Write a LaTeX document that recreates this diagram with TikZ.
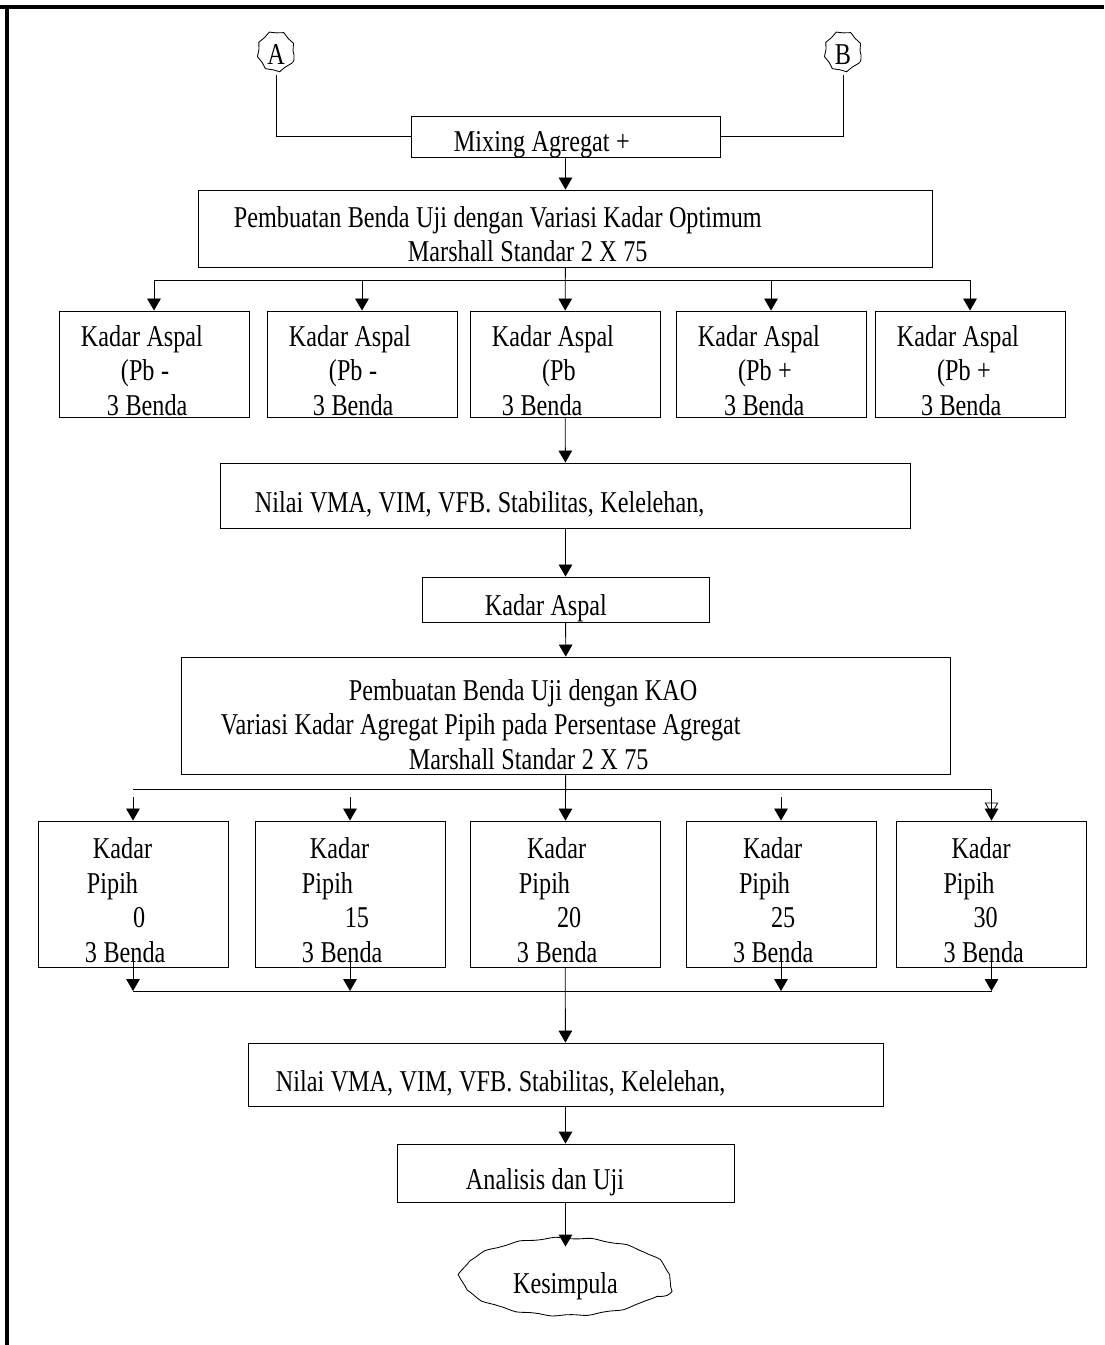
\documentclass[tikz,border=0pt]{standalone}
\usepackage{fontspec}
\setmainfont{Liberation Serif}[FakeStretch=0.8]
\usetikzlibrary{arrows.meta,shapes.geometric,decorations.pathmorphing}

\begin{document}
\begin{tikzpicture}[
  x=0.025cm, y=-0.025cm,
  every node/.style={font=\fontsize{21.5}{24.5}\selectfont},
  flow/.style={-{Triangle[length=0.3cm,width=0.34cm]}, line width=0.6pt},
  flowtwo/.style={-{Triangle[open,length=0.3cm,width=0.34cm,sep=-0.15cm]Triangle[length=0.3cm,width=0.34cm]}, line width=0.6pt},
  link/.style={line width=0.6pt},
  box/.style={
    draw,
    line width=0.6pt,
    align=left,
    inner ysep=0pt,
    text height=27.5pt,
    execute at begin node={\spaceskip=4.6pt\relax}
  },
  asbox/.style={box, text width=3.65cm, inner xsep=0.55cm, minimum height=2.65cm,
    text height=25pt, text depth=50pt},
  pibox/.style={box, text width=2.4cm, inner xsep=1.175cm, minimum height=3.65cm,
    text height=26pt, text depth=76pt},
  connector/.style={ellipse, draw, line width=0.6pt, inner sep=0pt,
    minimum width=0.9cm, minimum height=0.975cm,
    decorate, decoration={snake, amplitude=0.25mm, segment length=3.5mm}},
  endcloud/.style={ellipse, draw, line width=0.6pt, inner sep=0pt,
    minimum width=5.25cm, minimum height=1.95cm,
    decorate, decoration={snake, amplitude=0.2mm, segment length=9mm}}
]
\useasboundingbox (0,0) rectangle (1104,1345);

% page frame
\draw[line width=2.8pt] (0,7) -- (1104,7);
\draw[line width=2.2pt] (7,7) -- (7,1345);

% start
\node[connector] (A) at (276,55) {A};
\node[connector] (B) at (843,55) {B};
\node[box, text width=5.575cm, inner xsep=1.075cm, minimum height=1.025cm,
  text height=25pt, text depth=3pt] (mix) at (565.5,136.5) {Mixing Agregat +};
\node[box, text width=16.575cm, inner xsep=0.875cm, minimum height=1.925cm,
  text height=25pt, text depth=27pt] (opt) at (565.5,228.5) {
  Pembuatan Benda Uji dengan Variasi Kadar Optimum\\
  \hspace*{4.35cm}Marshall Standar 2 X 75
};

% kadar aspal row
\node[asbox] (asp1) at (154,364) {Kadar Aspal\\\hspace*{1cm}(Pb -\\\hspace*{0.65cm}3 Benda};
\node[asbox] (asp2) at (362,364) {Kadar Aspal\\\hspace*{1cm}(Pb -\\\hspace*{0.6cm}3 Benda};
\node[asbox] (asp3) at (565,364) {Kadar Aspal\\\hspace*{1.25cm}(Pb\\\hspace*{0.25cm}3 Benda};
\node[asbox] (asp4) at (771,364) {Kadar Aspal\\\hspace*{1cm}(Pb +\\\hspace*{0.65cm}3 Benda};
\node[asbox] (asp5) at (970,364) {Kadar Aspal\\\hspace*{1cm}(Pb +\\\hspace*{0.6cm}3 Benda};

\node[box, text width=15.525cm, inner xsep=0.85cm, minimum height=1.625cm] (nilai1) at (565.5,495.5) {Nilai VMA, VIM, VFB. Stabilitas, Kelelehan,};
\node[box, text width=4.025cm, inner xsep=1.575cm, minimum height=1.125cm] (kadar) at (565.5,599.5) {Kadar Aspal};
\node[box, text width=17.25cm, inner xsep=0.975cm, minimum height=2.925cm] (kao) at (566,715.5) {
  \hspace*{3.2cm}Pembuatan Benda Uji dengan KAO\\
  Variasi Kadar Agregat Pipih pada Persentase Agregat\\
  \hspace*{4.7cm}Marshall Standar 2 X 75
};

% kadar pipih row
\node[pibox] (pip1) at (133,894) {\hspace*{0.2cm}Kadar\\\hspace*{0.05cm}Pipih\\\hspace*{1.2cm}0\\3 Benda};
\node[pibox] (pip2) at (350,894) {\hspace*{0.2cm}Kadar\\Pipih\\\hspace*{1.07cm}15\\3 Benda};
\node[pibox] (pip3) at (565,894) {\hspace*{0.25cm}Kadar\\\hspace*{0.05cm}Pipih\\\hspace*{1cm}20\\3 Benda};
\node[pibox] (pip4) at (781,894) {\hspace*{0.25cm}Kadar\\\hspace*{0.15cm}Pipih\\\hspace*{0.95cm}25\\3 Benda};
\node[pibox] (pip5) at (991.5,894) {\hspace*{0.2cm}Kadar\\Pipih\\\hspace*{0.75cm}30\\3 Benda};

\node[box, text width=14.475cm, inner xsep=0.7cm, minimum height=1.575cm] (nilai2) at (565.5,1074.5) {Nilai VMA, VIM, VFB. Stabilitas, Kelelehan,};
\node[box, text width=4.975cm, inner xsep=1.725cm, minimum height=1.45cm] (anal) at (565.5,1173) {Analisis dan Uji};
\node[endcloud] (kes) at (565.5,1286) {Kesimpula};

% branch points
\coordinate (split1) at (565.5,280);
\coordinate (split2L) at (133,789);
\coordinate (split2R) at (991.5,789);
\coordinate (in1) at (133,797);
\coordinate (in2) at (350,797);
\coordinate (in4) at (781,797);
\coordinate (out1) at (133,958);
\coordinate (out2) at (350,958);
\coordinate (out4) at (781,958);
\coordinate (out5) at (991.5,958);
\coordinate (join1) at (133,991);
\coordinate (join2) at (350,991);
\coordinate (join4) at (781,991);
\coordinate (join5) at (991.5,991);

\draw[link] (A) |- (mix);
\draw[link] (B) |- (mix);
\draw[flow] (mix) -- (opt);
\draw[flow] (opt) -- (asp3);
\draw[flow] (split1) -| (asp1);
\draw[flow] (split1) -| (asp2);
\draw[flow] (split1) -| (asp4);
\draw[flow] (split1) -| (asp5);
\draw[flow] (asp3) -- (nilai1);
\draw[flow] (nilai1) -- (kadar);
\draw[flow] (kadar) -- (kao);

\draw[link] (split2L) -- (split2R);
\draw[flow] (in1) -- (pip1);
\draw[flow] (in2) -- (pip2);
\draw[flow] (kao) -- (pip3);
\draw[flow] (in4) -- (pip4);
\draw[flowtwo] (split2R) -- (pip5);

\draw[link] (join1) -- (join5);
\draw[flow] (out1) -- (join1);
\draw[flow] (out2) -- (join2);
\draw[flow] (out4) -- (join4);
\draw[flow] (out5) -- (join5);
\draw[flow] (pip3) -- (nilai2);
\draw[flow] (nilai2) -- (anal);
\draw[flow] (anal) -- (kes);

\end{tikzpicture}
\end{document}
